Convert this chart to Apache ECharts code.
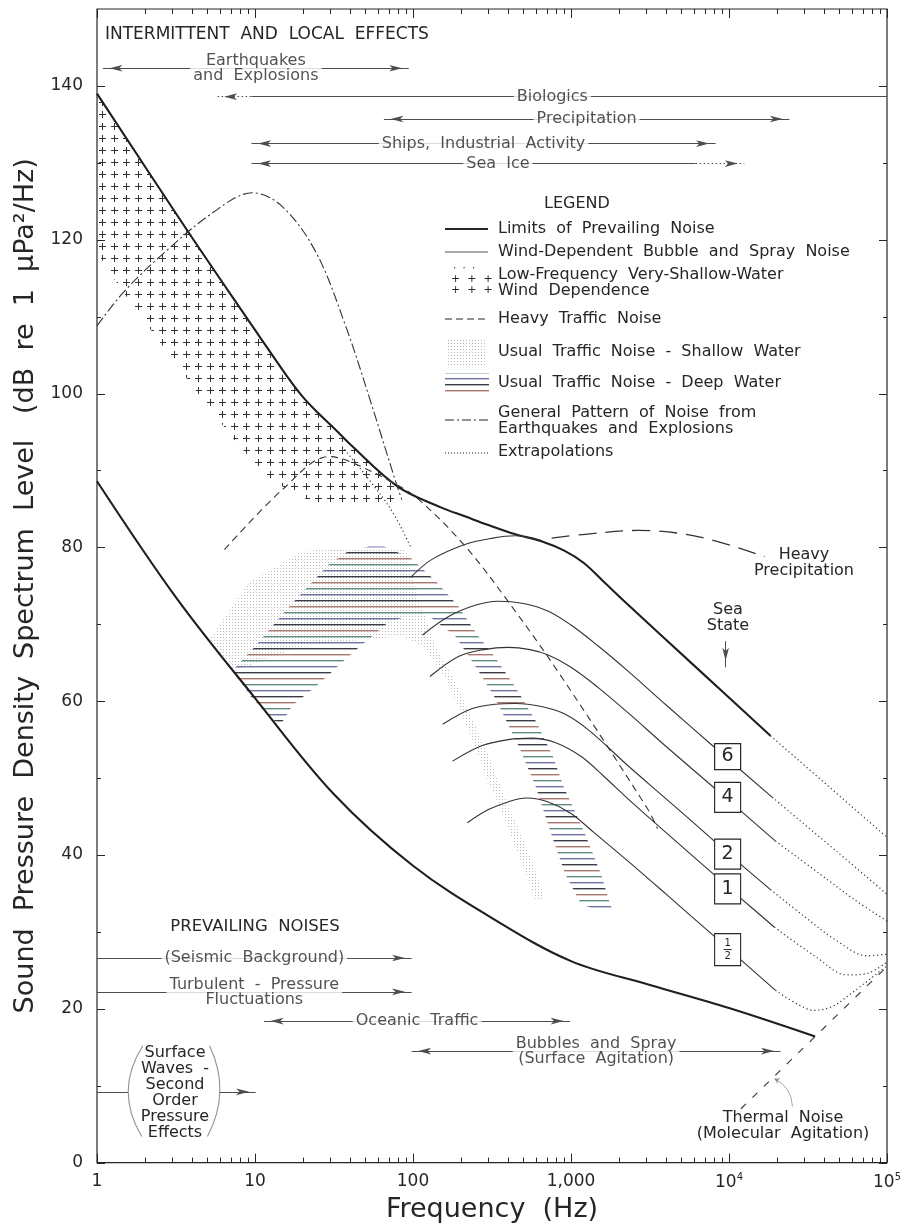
<!DOCTYPE html>
<html>
<head>
<meta charset="utf-8">
<title>Ambient noise spectra</title>
<script src="https://cdn.jsdelivr.net/npm/echarts@6.0.0/dist/echarts.min.js"></script>
<style>
html,body{margin:0;padding:0;background:#fff;}
#chart{width:904px;height:1228px;}
</style>
</head>
<body>
<div id="chart"></div>
<script>
// ===== DATA : frequency (Hz), level (dB re 1 µPa²/Hz) =====
const upperLimitF  = [1, 3.7, 9.9, 12, 16, 20, 25, 32, 40, 80, 150, 215, 300, 445, 650, 900, 1200, 1600, 2200, 6340, 18300];
const upperLimitDb = [139, 121.3, 108.4, 105.9, 102.2, 99.6, 97.5, 95.4, 93.4, 87.9, 85.2, 84.0, 82.9, 81.7, 80.8, 79.6, 78.0, 75.6, 72.9, 64.2, 55.5];
const upperExtF    = [18300, 100000];
const upperExtDb   = [55.5, 42.3];

const lowerLimitF  = [1, 3.16, 10, 31.6, 100, 316, 1000, 3160, 10000, 35100];
const lowerLimitDb = [88.6, 73.5, 60.4, 47.9, 38.6, 31.8, 26.2, 23.1, 20.1, 16.4];

const ssAF  = [96.8, 131, 215, 320, 445, 649];
const ssADb = [76.1, 78.4, 80.4, 81.2, 81.5, 80.9];
const ss6F  = [115, 168, 250, 347, 500, 718, 1000, 1480, 2295, 4000, 7880, 18800];
const ss6Db = [68.6, 71.0, 72.5, 73.0, 72.7, 71.7, 69.9, 67.2, 63.9, 59.5, 54.2, 47.5];
const ss6ExtF  = [18800, 48400, 100000];
const ss6ExtDb = [47.5, 40.4, 34.9];
const ss4F  = [128, 194, 280, 402, 550, 718, 1000, 1480, 2295, 4000, 7880, 19700];
const ss4Db = [63.2, 65.8, 66.7, 67.0, 66.7, 66.0, 64.4, 61.8, 58.5, 54.1, 48.9, 41.8];
const ss4ExtF  = [19700, 37800, 62000, 100000];
const ss4ExtDb = [41.8, 37.5, 34.2, 31.4];
const ss2F  = [154, 235, 330, 445, 650, 919, 1300, 2295, 4000, 7880, 11830, 18300];
const ss2Db = [57.0, 59.0, 59.6, 59.7, 59.3, 58.3, 56.2, 51.6, 47.3, 42.0, 38.8, 35.5];
const ss2ExtF  = [18300, 30000, 48400, 74800, 100000];
const ss2ExtDb = [35.5, 32.0, 28.8, 26.9, 27.1];
const ss1F  = [178, 272, 400, 561, 800, 1160, 1600, 2295, 4000, 7880, 11830, 19400];
const ss1Db = [52.2, 54.2, 55.0, 55.2, 54.6, 52.8, 50.3, 47.3, 42.9, 37.6, 34.4, 30.6];
const ss1ExtF  = [19400, 34700, 56000, 75000, 100000];
const ss1ExtDb = [30.6, 26.9, 24.4, 24.6, 26.1];
const ssHalfF  = [221, 300, 400, 522, 718, 1000, 1400, 2295, 4000, 7880, 11830, 19700];
const ssHalfDb = [44.2, 45.9, 46.9, 47.4, 46.9, 45.4, 42.9, 39.2, 34.9, 29.6, 26.4, 22.4];
const ssHalfExtF  = [19700, 27100, 34700, 45000, 56000, 100000];
const ssHalfExtDb = [22.4, 20.6, 19.8, 20.3, 21.6, 25.6];

const heavyTrafficF  = [6.41, 14.9, 29.5, 39.3, 78, 109, 215, 402, 830, 3050, 3530];
const heavyTrafficDb = [79.7, 87.5, 91.8, 91.2, 88.2, 86.2, 80.1, 72.9, 63.8, 46.0, 43.4];
const precipF  = [754, 1230, 2655, 6340, 16760];
const precipDb = [81.2, 81.7, 82.2, 81.4, 78.8];
const quakeF  = [1, 1.46, 2.5, 5.39, 9.64, 14.9, 24.4, 37.6, 52.7, 78.1, 85];
const quakeDb = [108.8, 113.1, 117.8, 123.5, 126.1, 124.3, 118.3, 108.7, 99.6, 88.4, 86.2];
const trafficExtF  = [35.6, 70.6, 96.8];
const trafficExtDb = [93.1, 85.3, 80.0];
const thermalF  = [11900, 100000];
const thermalDb = [7.0, 25.5];

// shaded regions (outlines)
const plusRegF  = [1, 3.7, 9.9, 12, 16, 20, 25, 32, 40, 79, 79, 25.5, 12.9, 8, 4.66, 1.66, 1.17, 1];
const plusRegDb = [139, 121.3, 108.4, 105.9, 102.2, 99.6, 97.5, 95.4, 93.4, 88.0, 85.4, 85.4, 88.6, 93.1, 99.2, 111.6, 116.1, 118.5];
const shallowF  = [5.16, 9.22, 19.9, 35.6, 90.1, 109, 139, 181, 225, 288, 363, 465, 578, 678, 603, 500, 402, 314, 249, 200, 161, 117, 87.5, 52.6, 19.0, 7.41];
const shallowDb = [68.1, 75.5, 79.5, 79.9, 79.7, 73.2, 67.1, 62.9, 58.7, 53.8, 48.6, 43.4, 38.8, 34.3, 34.0, 38.4, 43.4, 48.6, 53.8, 58.7, 62.9, 67.1, 68.4, 68.1, 67.0, 63.9];
const deepF  = [52.6, 65.5, 96.9, 141, 194, 215, 260, 333, 445, 603, 772, 893, 1229, 1550, 1767, 1846, 1528, 1160, 919, 750, 595, 465, 333, 260, 186, 129, 109, 85.0, 68.4, 55.0, 45.5, 34.1, 26.2, 17.2, 14.7, 12.7, 9.5, 7.2, 7.74, 9.91, 13.3, 16.5, 21.4, 29.5, 38.2];
const deepDb = [80.1, 80.1, 78.6, 75.5, 72.3, 70.9, 68.4, 65.6, 61.8, 57.3, 52.7, 49.0, 42.7, 37.5, 33.6, 32.7, 32.7, 33.6, 37.5, 42.7, 49.0, 54.2, 60.3, 63.9, 68.4, 70.9, 71.3, 70.8, 70.1, 68.4, 67.0, 64.7, 62.5, 59.4, 57.1, 57.6, 60.5, 63.9, 64.7, 67.0, 70.1, 72.3, 74.8, 77.8, 79.4];

// range arrows
const rangeText   = ['Earthquakes\nand  Explosions', 'Biologics', 'Precipitation', 'Ships,  Industrial  Activity', 'Sea  Ice',
                     '(Seismic  Background)', 'Turbulent  -  Pressure\nFluctuations', 'Oceanic  Traffic', 'Bubbles  and  Spray\n(Surface  Agitation)'];
const rangeDb     = [142.3, 138.6, 135.7, 132.5, 129.9, 26.6, 22.2, 18.4, 14.5];
const rangeLoHz   = [1.09, 5.8, 65.4, 9.5, 9.5, 1, 1, 11.4, 98];
const rangeHiHz   = [94, 99990, 24100, 8230, 12500, 98, 98, 988, 21200];
const rangeHeadLo = [1, 1, 1, 1, 1, 0, 0, 1, 1];
const rangeHeadHi = [1, 0, 1, 1, 1, 1, 1, 1, 1];
const rangeDotLo  = [null, 5.8, null, null, 6150, null, null, null, null];
const rangeDotHi  = [null, 9.5, null, null, 12500, null, null, null, null];
const surfaceDb   = 9.2;
const surfaceSegLo = [1, 5.97];
const surfaceSegHi = [1.57, 10.1];

// sea state labels
const seaStateNames = ['6', '4', '2', '1', '½'];
const seaStateLabelF = 9800;
const seaStateLabelDb = [52.8, 47.5, 40.1, 35.6, 27.7];

// ticks
const xMajorTicks = [1, 10, 100, 1000, 10000, 100000];
const xMinorMult  = [2, 3, 4, 5, 6, 7, 8, 9];
const xTickLabels = ['1', '10', '100', '1,000', '{b|10}{s|4}', '{b|10}{s|5}'];
const yMajorTicks = [0, 20, 40, 60, 80, 100, 120, 140];
const yMinorTicks = [10, 30, 50, 70, 90, 110, 130];

// ===== rendering =====
const FONT = "'DejaVu Sans', sans-serif";
const INK = '#262626';
const GRAY = '#4d4d4d';

const xMinorTicks = [];
xMajorTicks.slice(0, 5).forEach(d => xMinorMult.forEach(m => xMinorTicks.push(d * m)));

function pairs(fArr, dbArr) { return fArr.map((f, i) => [f, dbArr[i]]); }

function makePattern(w, h, draw) {
  const c = document.createElement('canvas');
  c.width = w; c.height = h;
  draw(c.getContext('2d'));
  return { image: c, repeat: 'repeat' };
}
const plusFill = makePattern(12, 12, ctx => {
  ctx.strokeStyle = '#333'; ctx.lineWidth = 1;
  ctx.beginPath();
  ctx.moveTo(3, 6.5); ctx.lineTo(10, 6.5);
  ctx.moveTo(6.5, 3); ctx.lineTo(6.5, 10);
  ctx.stroke();
});
const stippleFill = makePattern(3, 3, ctx => { ctx.fillStyle = '#b9b9b9'; ctx.fillRect(1, 1, 1, 1); });
const hatchFill = makePattern(6, 24, ctx => {
  ['#3c3c44', '#a9776b', '#5f8e7b', '#6c74a6'].forEach((c, i) => { ctx.fillStyle = c; ctx.fillRect(0, i * 6, 6, 1.4); });
});

function curve(fArr, dbArr, ls, extra) {
  return Object.assign({
    type: 'line', data: pairs(fArr, dbArr), showSymbol: false, symbol: 'none',
    smooth: 0.35, silent: true, z: 3, clip: true, animation: false,
    lineStyle: Object.assign({ color: INK, width: 1.1, type: 'solid' }, ls)
  }, extra || {});
}
function region(fArr, dbArr, fill, z) {
  return {
    type: 'custom', silent: true, z, animation: false,
    data: [[fArr[0], dbArr[0]]], encode: { x: 0, y: 1 },
    renderItem: (params, api) => ({
      type: 'polygon',
      shape: { points: fArr.map((f, i) => api.coord([f, dbArr[i]])) },
      style: { fill: fill, stroke: null }
    })
  };
}

const HEAD = { symbol: 'arrow', symbolSize: [5, 13], symbolOffset: [0, 6.5] };
function arrowItem(f1, f2, db, h1, h2, dotted, db2) {
  const ls = { color: GRAY, width: 1, type: dotted ? [1.5, 2.5] : 'solid' };
  return [
    Object.assign({ coord: [f1, db], lineStyle: ls }, h1 ? HEAD : { symbol: 'none' }),
    Object.assign({ coord: [f2, db2 == null ? db : db2] }, h2 ? HEAD : { symbol: 'none' })
  ];
}
const arrowItems = [];
rangeText.forEach((t, i) => {
  const lo = rangeLoHz[i], hi = rangeHiHz[i], db = rangeDb[i];
  const dLo = rangeDotLo[i], dHi = rangeDotHi[i];
  if (dLo == null) {
    arrowItems.push(arrowItem(lo, hi, db, rangeHeadLo[i], rangeHeadHi[i], false));
  } else if (dLo === lo) {
    arrowItems.push(arrowItem(lo, dHi, db, rangeHeadLo[i], 0, true));
    arrowItems.push(arrowItem(dHi, hi, db, 0, rangeHeadHi[i], false));
  } else {
    arrowItems.push(arrowItem(lo, dLo, db, rangeHeadLo[i], 0, false));
    arrowItems.push(arrowItem(dLo, hi, db, 0, rangeHeadHi[i], true));
  }
});
arrowItems.push(arrowItem(surfaceSegLo[0], surfaceSegHi[0], surfaceDb, 0, 0, false));
arrowItems.push(arrowItem(surfaceSegLo[1], surfaceSegHi[1], surfaceDb, 0, 1, false));
// sea state pointer
arrowItems.push(arrowItem(9520, 9520, 67.8, 0, 1, false, 64.4));

const tickStyle = { stroke: INK, lineWidth: 1 };
const xTickSeries = {
  type: 'custom', silent: true, z: 10, animation: false,
  data: xMajorTicks.map(v => [v, 0, 9]).concat(xMinorTicks.map(v => [v, 0, 5])),
  encode: { x: 0, y: 1 },
  renderItem: (params, api) => {
    const cs = params.coordSys;
    const px = Math.round(api.coord([api.value(0), 0])[0]) + 0.5;
    const len = api.value(2);
    const top = cs.y, bot = cs.y + cs.height;
    return { type: 'group', children: [
      { type: 'line', shape: { x1: px, y1: bot, x2: px, y2: bot - len }, style: tickStyle },
      { type: 'line', shape: { x1: px, y1: top, x2: px, y2: top + len }, style: tickStyle }
    ] };
  }
};
const yTickSeries = {
  type: 'custom', silent: true, z: 10, animation: false,
  data: yMajorTicks.map(v => [1, v, 8]).concat(yMinorTicks.map(v => [1, v, 4])),
  encode: { x: 0, y: 1 },
  renderItem: (params, api) => {
    const cs = params.coordSys;
    const py = Math.round(api.coord([1, api.value(1)])[1]) + 0.5;
    const len = api.value(2);
    const l = cs.x, r = cs.x + cs.width;
    return { type: 'group', children: [
      { type: 'line', shape: { x1: l, y1: py, x2: l + len, y2: py }, style: tickStyle },
      { type: 'line', shape: { x1: r, y1: py, x2: r - len, y2: py }, style: tickStyle }
    ] };
  }
};

const limitLS = { color: '#1e1e1e', width: 2.1 };
const windLS = { color: '#333', width: 1.1 };
const dotLS = { color: '#333', width: 1.2, type: [1.2, 2.8] };

const series = [
  region(shallowF, shallowDb, stippleFill, 1),
  region(deepF, deepDb, hatchFill, 2),
  region(plusRegF, plusRegDb, plusFill, 2),
  curve(upperLimitF, upperLimitDb, limitLS),
  curve(upperExtF, upperExtDb, dotLS, { smooth: false }),
  curve(lowerLimitF, lowerLimitDb, limitLS, {
    markLine: {
      silent: true, animation: false, symbol: ['none', 'none'],
      label: { show: false }, emphasis: { disabled: true },
      lineStyle: { color: GRAY, width: 1, type: 'solid' },
      data: arrowItems
    }
  }),
  curve(ssAF, ssADb, windLS),
  curve(ss6F, ss6Db, windLS), curve(ss6ExtF, ss6ExtDb, dotLS),
  curve(ss4F, ss4Db, windLS), curve(ss4ExtF, ss4ExtDb, dotLS),
  curve(ss2F, ss2Db, windLS), curve(ss2ExtF, ss2ExtDb, dotLS),
  curve(ss1F, ss1Db, windLS), curve(ss1ExtF, ss1ExtDb, dotLS),
  curve(ssHalfF, ssHalfDb, windLS), curve(ssHalfExtF, ssHalfExtDb, dotLS),
  curve(heavyTrafficF, heavyTrafficDb, { color: '#333', width: 1.1, type: [7, 5] }),
  curve(precipF, precipDb, { color: '#333', width: 1.3, type: [18, 9] }),
  curve(quakeF, quakeDb, { color: '#333', width: 1.1, type: [10, 3, 2, 3] }),
  curve(trafficExtF, trafficExtDb, dotLS),
  curve(thermalF, thermalDb, { color: '#333', width: 1.1, type: [7, 9] }, { smooth: false }),
  // curved strokes: thermal pointer and parentheses
  {
    type: 'lines', coordinateSystem: 'cartesian2d', silent: true, z: 4, animation: false,
    symbol: ['arrow', 'none'], symbolSize: [5, 12],
    lineStyle: { color: GRAY, width: 1 },
    data: [{ coords: [[19400, 10.9], [25200, 7.3]], lineStyle: { curveness: 0.3 } }]
  },
  {
    type: 'lines', coordinateSystem: 'cartesian2d', silent: true, z: 4, animation: false,
    symbol: 'none', lineStyle: { color: INK, width: 1.1 },
    data: [
      { coords: [[1.92, 3.4], [1.95, 15.2]], lineStyle: { curveness: 0.31 } },
      { coords: [[5.16, 15.2], [5.0, 3.4]], lineStyle: { curveness: 0.25 } }
    ]
  },
  // range labels
  {
    type: 'scatter', silent: true, z: 6, symbolSize: 0, animation: false,
    data: rangeText.map((t, i) => ({ value: [Math.sqrt(rangeLoHz[i] * rangeHiHz[i]), rangeDb[i]], label: { formatter: t } })),
    label: { show: true, position: 'inside', color: INK, fontFamily: FONT, fontSize: 16, lineHeight: 15,
             backgroundColor: '#fff', padding: [0, 3] }
  },
  // sea state boxes
  {
    type: 'scatter', silent: true, z: 7, symbol: 'rect', animation: false,
    itemStyle: { color: '#fff', borderColor: INK, borderWidth: 1.2, opacity: 1 },
    data: seaStateNames.map((n, i) => ({
      value: [seaStateLabelF, seaStateLabelDb[i]],
      symbolSize: n === '½' ? [26, 32] : (n === '6' ? [26, 26] : [26, 30]),
      label: { formatter: n === '½' ? '{n|1}\n{l| }\n{n|2}' : n }
    })),
    label: { show: true, position: 'inside', color: INK, fontFamily: FONT, fontSize: 19,
      rich: {
        n: { fontSize: 10, lineHeight: 10, fontFamily: FONT, color: INK, align: 'center' },
        l: { width: 8, height: 1, lineHeight: 3, fontSize: 1, backgroundColor: INK, align: 'center' }
      } }
  },
  xTickSeries, yTickSeries
];

// ===== free text / legend (layout) =====
const T = (text, x, y, opt) => ({ type: 'text', x, y, silent: true, z: 20,
  style: Object.assign({ text, fill: INK, font: '16px ' + FONT, align: 'left', verticalAlign: 'middle', lineHeight: 16 }, opt || {}) });
const L = (x1, y1, x2, y2, opt) => ({ type: 'line', silent: true, z: 20, shape: { x1, y1, x2, y2 },
  style: Object.assign({ stroke: INK, lineWidth: 1 }, opt || {}) });
const R = (x, y, w, h, fill) => ({ type: 'rect', silent: true, z: 20, shape: { x, y, width: w, height: h }, style: { fill } });

const graphic = [
  T('INTERMITTENT  AND  LOCAL  EFFECTS', 105, 35, { font: '17px ' + FONT }),
  T('PREVAILING  NOISES', 255, 927, { align: 'center', font: '16.5px ' + FONT }),
  T('Sea\nState', 728, 618, { align: 'center' }),
  T('Heavy\nPrecipitation', 804, 563, { align: 'center' }),
  T('Thermal  Noise\n(Molecular  Agitation)', 783, 1126, { align: 'center' }),
  T('Surface\nWaves  -\nSecond\nOrder\nPressure\nEffects', 175, 1093, { align: 'center' }),
  T('LEGEND', 577, 204, { align: 'center' }),
  L(445, 229, 488, 229, { lineWidth: 2 }),
  T('Limits  of  Prevailing  Noise', 498, 229),
  L(445, 252, 488, 252, { lineWidth: 1, stroke: '#555' }),
  T('Wind-Dependent  Bubble  and  Spray  Noise', 498, 252),
  T('·  ·  ·', 453, 268, { font: '10px ' + FONT }),
  T('+  +  +', 451, 279, { font: '11px ' + FONT }),
  T('+  +  +', 451, 290, { font: '11px ' + FONT }),
  T('Low-Frequency  Very-Shallow-Water\nWind  Dependence', 498, 283),
  L(445, 319, 488, 319, { lineDash: [7, 4] }),
  T('Heavy  Traffic  Noise', 498, 319),
  R(448, 340, 39, 25, stippleFill),
  T('Usual  Traffic  Noise  -  Shallow  Water', 498, 352),
  R(445, 373, 44, 20, hatchFill),
  T('Usual  Traffic  Noise  -  Deep  Water', 498, 383),
  L(445, 420, 488, 420, { lineDash: [9, 3, 2, 3] }),
  T('General  Pattern  of  Noise  from\nEarthquakes  and  Explosions', 498, 421),
  L(445, 453, 488, 453, { lineDash: [1, 2] }),
  T('Extrapolations', 498, 452)
];

const chart = echarts.init(document.getElementById('chart'), null, { renderer: 'canvas' });
chart.setOption({
  animation: false,
  backgroundColor: '#ffffff',
  grid: { left: 97, right: 15, top: 9, bottom: 64, show: true, borderColor: INK, borderWidth: 1.2, backgroundColor: 'transparent' },
  xAxis: {
    type: 'log', logBase: 10, min: 1, max: 100000,
    axisLine: { show: false }, axisTick: { show: false }, splitLine: { show: false }, minorTick: { show: false },
    axisLabel: {
      margin: 10, color: INK, fontFamily: FONT, fontSize: 17,
      formatter: v => xTickLabels[Math.round(Math.log10(v))],
      rich: {
        b: { fontSize: 17, lineHeight: 20, fontFamily: FONT, color: INK },
        s: { fontSize: 10, lineHeight: 10, fontFamily: FONT, color: INK, verticalAlign: 'top' }
      }
    },
    name: 'Frequency  (Hz)', nameLocation: 'middle', nameGap: 33,
    nameTextStyle: { fontFamily: FONT, fontSize: 27, color: INK }
  },
  yAxis: {
    type: 'value', min: 0, max: 150, interval: 20,
    axisLine: { show: false }, axisTick: { show: false }, splitLine: { show: false },
    axisLabel: { margin: 14, color: INK, fontFamily: FONT, fontSize: 17, showMaxLabel: false },
    name: 'Sound  Pressure  Density  Spectrum  Level   (dB  re  1  μPa²/Hz)', nameLocation: 'middle', nameGap: 52,
    nameTextStyle: { fontFamily: FONT, fontSize: 27, color: INK }
  },
  series,
  graphic
});
</script>
</body>
</html>
